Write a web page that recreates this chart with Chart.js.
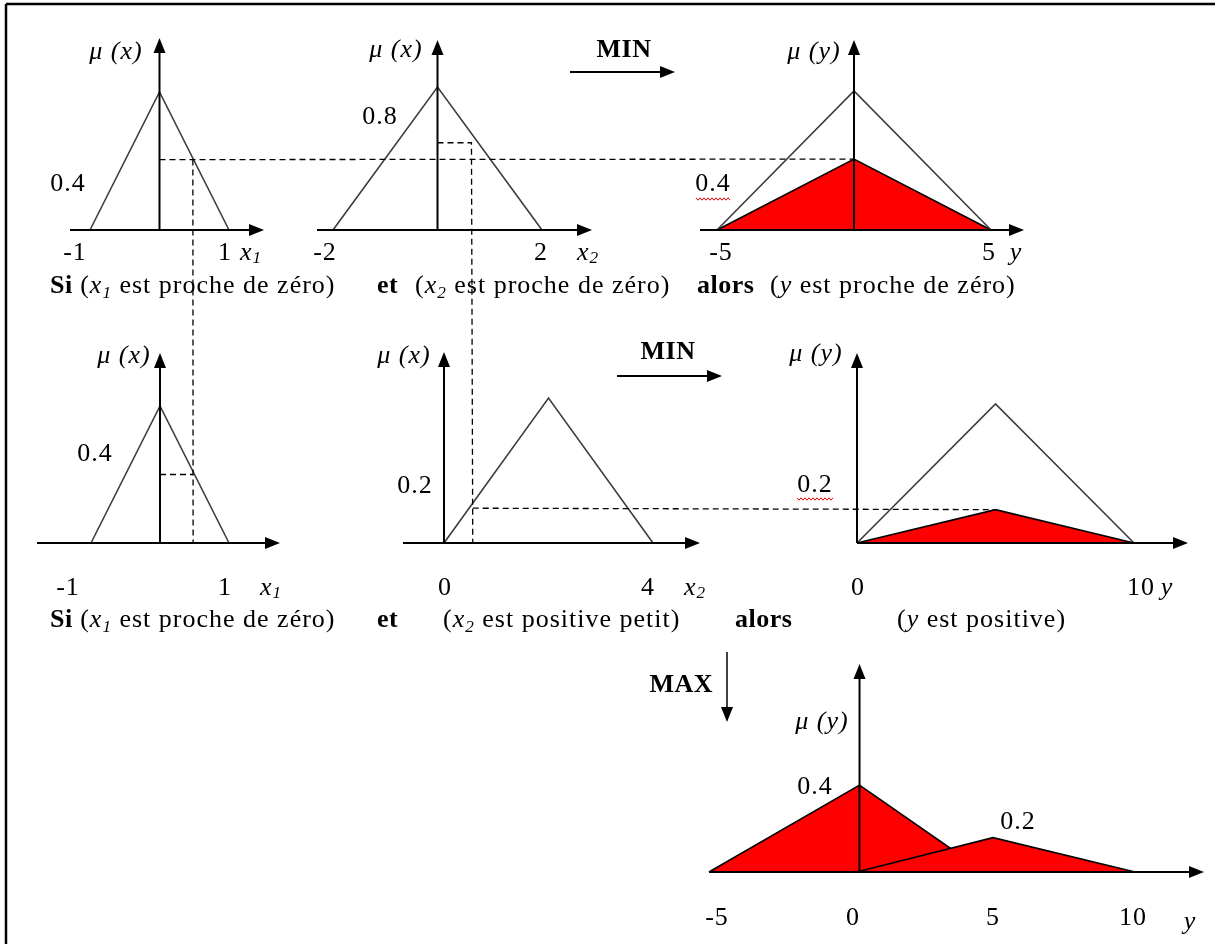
<!DOCTYPE html>
<html lang="fr">
<head>
<meta charset="utf-8">
<title>Inférence floue MIN / MAX</title>
<script src="https://cdn.jsdelivr.net/npm/chart.js@4.4.1/dist/chart.umd.min.js"></script>
<style>
  html, body { margin: 0; padding: 0; background: #fff; }
  #fuzzy { display: block; }
</style>
</head>
<body>
<canvas id="fuzzy" width="1215" height="944"></canvas>
<script>
(function () {
    "use strict";

    // Membership functions [value, degree]
    var x1ProcheZero = [[-1, 0], [0, 1], [1, 0]];
    var x2ProcheZero = [[-2, 0], [0, 1], [2, 0]];
    var yProcheZero = [[-5, 0], [0, 1], [5, 0]];
    var x2PositivePetit = [[0, 0], [2, 1], [4, 0]];
    var yPositive = [[0, 0], [5, 1], [10, 0]];

    // Inputs and degrees as read on each plot (rule 1, rule 2)
    var x1Input = [0.48, 0.48];
    var x2Input = [0.65, 0.55];
    var muX1 = [0.51, 0.5];
    var muX2 = [0.61, 0.24];

    // Conclusions after MIN, then the MAX aggregation
    var yProcheZeroOut = [[-5, 0], [0, 0.51], [5, 0]];
    var yPositiveOut = [[0, 0], [5, 0.24], [10, 0]];
    var yMaxA = [[-5, 0], [0.3, 0.48], [4.7, 0]];
    var yMaxB = [[0.2, 0], [5, 0.19], [10, 0]];

    // Tick labels
    var ticksX1 = [-1, 1];
    var ticksX2 = [-2, 2];
    var ticksY = [-5, 5];
    var ticksX2b = [0, 4];
    var ticksYb = [0, 10];
    var ticksYMax = [-5, 0, 5, 10];
    var levelLabels = ["0.4", "0.8", "0.4", "0.4", "0.2", "0.2", "0.4", "0.2"];


    // Layout: two x values and mu 0/1 pinned to canvas pixels
    var W = 1215, H = 944;
    var panels = {
        p1: { xv: [-1, 1], xp: [90, 229], yp: [230, 92], axis: [70, 264], tip: 38, at: 0 },
        p2: { xv: [-2, 2], xp: [333, 542], yp: [230, 87], axis: [317, 592], tip: 40, at: 0 },
        p3: { xv: [-5, 5], xp: [717, 991], yp: [230, 91], axis: [700, 1024], tip: 40, at: 0 },
        p4: { xv: [-1, 1], xp: [91, 229], yp: [543, 406], axis: [37, 280], tip: 353, at: 0 },
        p5: { xv: [0, 4], xp: [444, 653], yp: [543, 398], axis: [403, 700], tip: 352, at: 0 },
        p6: { xv: [0, 10], xp: [857, 1134], yp: [543, 404], axis: [857, 1188], tip: 353, at: 0 },
        p7: { xv: [-5, 10], xp: [709, 1135], yp: [872, 691], axis: [709, 1204], tip: 664, at: 0.3 }
    };

    var scales = {};
    Object.keys(panels).forEach(function (id) {
        var p = panels[id];
        var kx = (p.xp[1] - p.xp[0]) / (p.xv[1] - p.xv[0]);
        var xmin = p.xv[0] - p.xp[0] / kx;
        var ky = p.yp[0] - p.yp[1];
        var ymax = 1 + p.yp[1] / ky;
        scales[id + "x"] = { type: "linear", display: false, bounds: "data", min: xmin, max: xmin + W / kx };
        scales[id + "y"] = { type: "linear", display: false, bounds: "data", min: ymax - H / ky, max: ymax };
    });


    // Tick / axis-name placement
    var tickRows = [
        { id: "p1", vals: ticksX1, dx: [-15, -4], y: 253, name: [["x", "i"], ["1", "is"]], nameX: 251 },
        { id: "p2", vals: ticksX2, dx: [-8, -1], y: 253, name: [["x", "i"], ["2", "is"]], nameX: 588 },
        { id: "p3", vals: ticksY, dx: [4, -2], y: 253, name: [["y", "i"]], nameX: 1016 },
        { id: "p4", vals: ticksX1, dx: [-23, -4], y: 588, name: [["x", "i"], ["1", "is"]], nameX: 271 },
        { id: "p5", vals: ticksX2b, dx: [1, -5], y: 588, name: [["x", "i"], ["2", "is"]], nameX: 695 },
        { id: "p6", vals: ticksYb, dx: [1, 7], y: 588, name: [["y", "i"]], nameX: 1167 },
        { id: "p7", vals: ticksYMax, dx: [8, 2, 0, -2], y: 918, name: [["y", "i"]], nameX: 1190 }
    ];
    var muLabels = [
        [116, 52, "x"], [396, 50, "x"], [814, 52, "y"],
        [124, 356, "x"], [404, 356, "x"], [816, 354, "y"], [822, 722, "y"]
    ];
    var levelPos = [[68, 184], [380, 117], [713, 184], [95, 454], [415, 486], [815, 485], [815, 787], [1018, 822]];
    var wavyUnder = [[696, 731, 199], [797, 833, 499]];

    var sentences = [
        [50, 293, [["Si", "b"], [" (", ""], ["x", "i"], ["1", "is"], [" est proche de zéro)", ""]]],
        [377, 293, [["et", "b"]]],
        [415, 293, [["(", ""], ["x", "i"], ["2", "is"], [" est proche de zéro)", ""]]],
        [697, 293, [["alors", "b"]]],
        [770, 293, [["(", ""], ["y", "i"], [" est proche de zéro)", ""]]],
        [50, 627, [["Si", "b"], [" (", ""], ["x", "i"], ["1", "is"], [" est proche de zéro)", ""]]],
        [377, 627, [["et", "b"]]],
        [443, 627, [["(", ""], ["x", "i"], ["2", "is"], [" est positive petit)", ""]]],
        [735, 627, [["alors", "b"]]],
        [897, 627, [["(", ""], ["y", "i"], [" est positive)", ""]]]
    ];

    var FONT = "'Liberation Serif', 'Times New Roman', serif";
    var FS = 26;


    // Dashed guides: [panel, value, degree] points
    var guides = [
        [["p1", 0, muX1[0]], ["p3", 0, yProcheZeroOut[1][1]]],
        [["p1", x1Input[0], muX1[0]], ["p4", x1Input[1], 0]],
        [["p4", 0, muX1[1]], ["p4", x1Input[1], muX1[1]]],
        [["p2", 0, muX2[0]], ["p2", x2Input[0], muX2[0]], ["p5", x2Input[1], 0]],
        [["p5", x2Input[1], muX2[1]], ["p6", 5, yPositiveOut[1][1]]]
    ];


    function pts(arr) {
        return arr.map(function (d) { return { x: d[0], y: d[1] }; });
    }

    function outline(id, arr) {
        return {
            data: pts(arr), xAxisID: id + "x", yAxisID: id + "y",
            showLine: true, pointRadius: 0, borderColor: "#3c3c3c", borderWidth: 1.6,
            fill: false, order: 1
        };
    }

    function filled(id, arr, order) {
        return {
            data: pts(arr), xAxisID: id + "x", yAxisID: id + "y",
            showLine: true, pointRadius: 0, borderColor: "#000", borderWidth: 1.6,
            backgroundColor: "#ff0000", fill: "origin", order: order
        };
    }


    function font(style, size) {
        var f = "";
        if (style.indexOf("i") >= 0) f += "italic ";
        if (style.indexOf("b") >= 0) f += "bold ";
        return f + size + "px " + FONT;
    }

    function setFont(ctx, style) {
        var sub = style.indexOf("s") >= 0;
        ctx.font = font(style, sub ? FS * 0.66 : FS);
        ctx.letterSpacing = style.indexOf("b") >= 0 ? "0.5px" : "1px";
    }

    // rich text: parts of [text, style], style with b / i / s (subscript)
    function rich(ctx, x, y, parts, align) {
        var total = 0;
        parts.forEach(function (p) {
            setFont(ctx, p[1]);
            total += ctx.measureText(p[0]).width;
        });
        if (align === "center") x -= total / 2;
        if (align === "right") x -= total;
        ctx.textAlign = "left";
        parts.forEach(function (p) {
            setFont(ctx, p[1]);
            ctx.fillText(p[0], x, p[1].indexOf("s") >= 0 ? y + 5 : y);
            x += ctx.measureText(p[0]).width;
        });
        ctx.letterSpacing = "0px";
    }

    function arrowHead(ctx, x, y, dir) {
        var l = 15, w = 6;
        ctx.beginPath();
        ctx.moveTo(x, y);
        if (dir === "right") { ctx.lineTo(x - l, y - w); ctx.lineTo(x - l, y + w); }
        if (dir === "up") { ctx.lineTo(x - w, y + l); ctx.lineTo(x + w, y + l); }
        if (dir === "down") { ctx.lineTo(x - w, y - l); ctx.lineTo(x + w, y - l); }
        ctx.closePath();
        ctx.fill();
    }

    function line(ctx, x0, y0, x1, y1) {
        ctx.beginPath();
        ctx.moveTo(x0, y0);
        ctx.lineTo(x1, y1);
        ctx.stroke();
    }


    // Axes, guides and texts on top of the datasets
    var diagramPlugin = {
        id: "diagram",
        afterDatasetsDraw: function (chart) {
            var ctx = chart.ctx;
            var sx = function (id, v) { return chart.scales[id + "x"].getPixelForValue(v); };
            var sy = function (id, v) { return chart.scales[id + "y"].getPixelForValue(v); };
            ctx.save();
            ctx.strokeStyle = "#000";
            ctx.fillStyle = "#000";

            // frame
            ctx.lineWidth = 2.5;
            line(ctx, 6, 4, W, 4);
            line(ctx, 6, 4, 6, H);

            // dashed guides
            ctx.lineWidth = 1.3;
            ctx.setLineDash([6, 4]);
            guides.forEach(function (g) {
                ctx.beginPath();
                g.forEach(function (p, i) {
                    var x = sx(p[0], p[1]), y = sy(p[0], p[2]);
                    if (i === 0) ctx.moveTo(x, y); else ctx.lineTo(x, y);
                });
                ctx.stroke();
            });
            ctx.setLineDash([]);

            // axes with arrows
            ctx.lineWidth = 2;
            Object.keys(panels).forEach(function (id) {
                var p = panels[id];
                var y0 = sy(id, 0), xa = sx(id, p.at);
                line(ctx, p.axis[0], y0, p.axis[1] - 10, y0);
                arrowHead(ctx, p.axis[1], y0, "right");
                line(ctx, xa, y0, xa, p.tip + 10);
                arrowHead(ctx, xa, p.tip, "up");
            });

            // MIN / MAX operators
            line(ctx, 570, 72, 665, 72);
            arrowHead(ctx, 675, 72, "right");
            line(ctx, 617, 376, 712, 376);
            arrowHead(ctx, 722, 376, "right");
            ctx.lineWidth = 1.5;
            line(ctx, 727, 652, 727, 712);
            arrowHead(ctx, 727, 722, "down");

            ctx.textBaseline = "middle";
            rich(ctx, 624, 50, [["MIN", "b"]], "center");
            rich(ctx, 668, 352, [["MIN", "b"]], "center");
            rich(ctx, 713, 685, [["MAX", "b"]], "right");

            // tick labels and axis names
            tickRows.forEach(function (r) {
                r.vals.forEach(function (v, i) {
                    rich(ctx, sx(r.id, v) + r.dx[i], r.y, [[String(v), ""]], "center");
                });
                rich(ctx, r.nameX, r.y + (r.id === "p7" ? 4 : 0), r.name, "center");
            });

            // mu labels
            muLabels.forEach(function (m) {
                rich(ctx, m[0], m[1], [["\u03bc (" + m[2] + ")", "i"]], "center");
            });

            // level labels
            levelLabels.forEach(function (t, i) {
                rich(ctx, levelPos[i][0], levelPos[i][1], [[t, ""]], "center");
            });
            ctx.strokeStyle = "#e00000";
            ctx.lineWidth = 1;
            wavyUnder.forEach(function (w) {
                ctx.beginPath();
                for (var x = w[0], k = 0; x <= w[1]; x += 2, k++) {
                    var yy = w[2] + (k % 2 ? 1.2 : -1.2);
                    if (k === 0) ctx.moveTo(x, yy); else ctx.lineTo(x, yy);
                }
                ctx.stroke();
            });

            // rule sentences
            ctx.textBaseline = "alphabetic";
            sentences.forEach(function (s) {
                rich(ctx, s[0], s[1], s[2], "left");
            });
            ctx.restore();
        }
    };


    var datasets = [
        outline("p1", x1ProcheZero),
        outline("p2", x2ProcheZero),
        outline("p3", yProcheZero),
        outline("p4", x1ProcheZero),
        outline("p5", x2PositivePetit),
        outline("p6", yPositive),
        filled("p3", yProcheZeroOut, 2),
        filled("p6", yPositiveOut, 2),
        filled("p7", yMaxB, 2),
        filled("p7", yMaxA, 3)
    ];

    new Chart(document.getElementById("fuzzy").getContext("2d"), {
        type: "scatter",
        data: { datasets: datasets },
        options: {
            responsive: false,
            devicePixelRatio: 1,
            animation: false,
            events: [],
            layout: { padding: 0 },
            elements: { line: { tension: 0 } },
            plugins: { legend: { display: false }, tooltip: { enabled: false } },
            scales: scales
        },
        plugins: [diagramPlugin]
    });

})();
</script>
</body>
</html>
